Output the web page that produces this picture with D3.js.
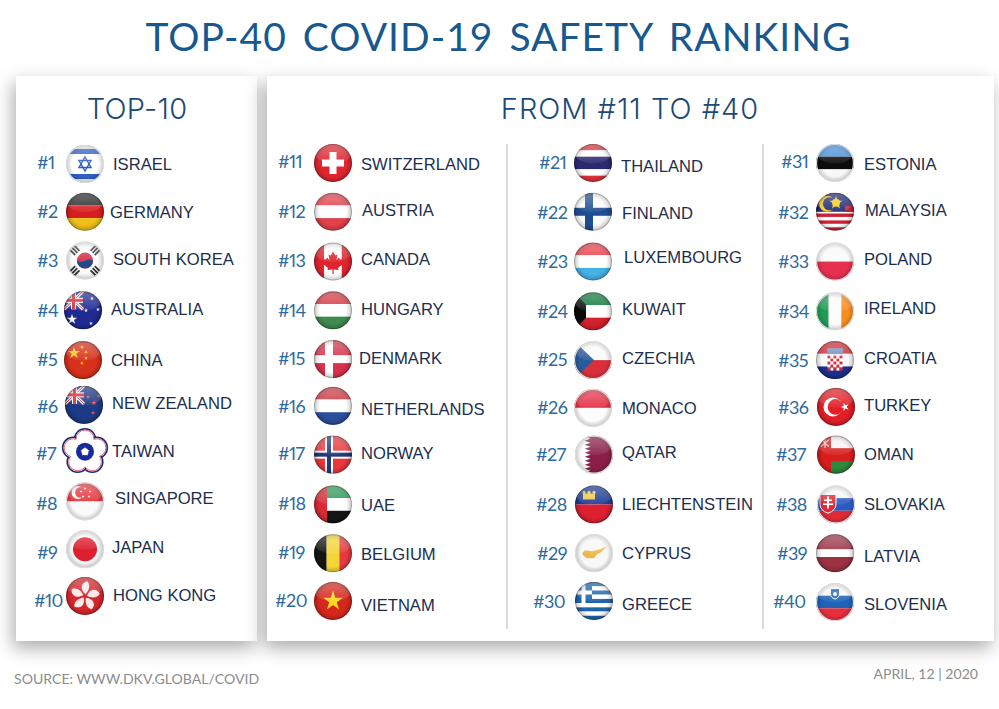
<!DOCTYPE html>
<html>
<head>
<meta charset="utf-8">
<script src="https://cdn.jsdelivr.net/npm/d3@7"></script>
<style>
  html, body { margin: 0; background: #fff; }
  svg { display: block; }
  .title { font-family: Lato, sans-serif; fill: #17588f; font-size: 39px; letter-spacing: 1px; word-spacing: 5px; }
  .head { font-family: Inter, sans-serif; font-weight: 300; fill: #1c4a78; font-size: 29px; }
  .rank { font-family: Lato, sans-serif; fill: #2f6a9c; font-size: 18px; font-variant-numeric: proportional-nums; letter-spacing: -0.6px; }
  .name { font-family: "Liberation Sans", Arial, sans-serif; fill: #1c2e4e; font-size: 16.6px; }
  .foot { font-family: Lato, sans-serif; fill: #8c8c8c; font-size: 14.1px; }
</style>
</head>
<body>
<div id="chart"></div>
<script>
// table contents
const names1 = ['ISRAEL', 'GERMANY', 'SOUTH KOREA', 'AUSTRALIA', 'CHINA', 'NEW ZEALAND', 'TAIWAN', 'SINGAPORE', 'JAPAN', 'HONG KONG'];
const names2 = ['SWITZERLAND', 'AUSTRIA', 'CANADA', 'HUNGARY', 'DENMARK', 'NETHERLANDS', 'NORWAY', 'UAE', 'BELGIUM', 'VIETNAM'];
const names3 = ['THAILAND', 'FINLAND', 'LUXEMBOURG', 'KUWAIT', 'CZECHIA', 'MONACO', 'QATAR', 'LIECHTENSTEIN', 'CYPRUS', 'GREECE'];
const names4 = ['ESTONIA', 'MALAYSIA', 'POLAND', 'IRELAND', 'CROATIA', 'TURKEY', 'OMAN', 'SLOVAKIA', 'LATVIA', 'SLOVENIA'];
const ranks1 = [1, 2, 3, 4, 5, 6, 7, 8, 9, 10];
const ranks2 = [11, 12, 13, 14, 15, 16, 17, 18, 19, 20];
const ranks3 = [21, 22, 23, 24, 25, 26, 27, 28, 29, 30];
const ranks4 = [31, 32, 33, 34, 35, 36, 37, 38, 39, 40];

const width = 999;
const height = 709;
const R = 19;

// the original is hand placed, so each column carries small offsets from the row scale
const columns = [
  { names: names1, ranks: ranks1, rankX: 37, flagX: 85, nameX: 112,
    rankDy: [0, 0, 0, 1, 2, 0, -2, -1, -1, -1],
    flagDy: [1, 0, 0, 1, 2, -2, -4, -3, -4, -6],
    nameDy: [1, 0, -1, 0, 2, -4, -4, -6, -6, -7],
    rankDx: [0, 0, 0, 0, 0, 0, -1, -1, 0, -3],
    flagDx: [0, 0, 0, -2, -2, -1, 0, 0, 0, 0],
    nameDx: [1, -2, 1, -1, -1, 0, 0, 3, 0, 1] },
  { names: names2, ranks: ranks2, rankX: 278, flagX: 333, nameX: 361,
    rankDy: [-1, 0, 0, 1, 1, 0, -2, -1, -1, -1],
    flagDy: [0, 0, 1, 1, 1, -1, -1, 0, 0, -1],
    nameDy: [1, -2, -1, 0, 0, 2, -2, 1, 1, 3],
    rankDx: [0, 0, 0, 0, 0, 0, 0, 0, 0, -3],
    flagDx: [0, 0, 0, 0, 0, 0, 0, 0, 0, 0],
    nameDx: [0, 1, 0, 0, -2, 0, 0, 0, 0, 0] },
  { names: names3, ranks: ranks3, rankX: 537, flagX: 593, nameX: 622,
    rankDy: [0, 1, 1, 2, 2, 1, -1, 0, 0, 0],
    flagDy: [0, 0, 1, 2, 2, 1, -1, 0, 0, -1],
    nameDy: [3, 1, -3, 0, 0, 1, -3, 0, 0, 2],
    rankDx: [2, 0, 0, 0, 0, 0, -1, -1, 0, -4],
    flagDx: [0, 0, 0, 0, 0, 0, 1, 1, 1, 1],
    nameDx: [-1, 0, 2, 0, 0, 0, 0, 0, 0, 0] },
  { names: names4, ranks: ranks4, rankX: 778, flagX: 835, nameX: 864,
    rankDy: [-1, 1, 1, 2, 3, 1, -1, 0, 0, 0],
    flagDy: [0, 0, 1, 2, 2, 0, -1, 0, 0, 0],
    nameDy: [1, -2, -1, -1, 0, -2, -1, 0, 3, 2],
    rankDx: [3, 0, 0, 0, 0, 0, -2, -2, -1, -5],
    flagDx: [0, 0, 0, 0, 0, 1, 1, 1, 0, 0],
    nameDx: [0, 1, 0, 0, 0, 0, 0, 0, 0, 0] }
];

const row = d3.scalePoint().domain(d3.range(10)).range([163, 602]);

// flag drawing helpers, everything is in a circle of radius R around 0,0
function rect (g, x, y, w, h, fill) {
  return g.append('rect').attr('x', x).attr('y', y).attr('width', w).attr('height', h).attr('fill', fill);
}
function dot (g, x, y, r, fill) {
  return g.append('circle').attr('cx', x).attr('cy', y).attr('r', r).attr('fill', fill);
}
function poly (g, d, fill) {
  return g.append('path').attr('d', d).attr('fill', fill);
}
function star (g, x, y, size, fill, spin) {
  return g.append('path')
    .attr('d', d3.symbol(d3.symbolStar, size * size * 1.1)())
    .attr('transform', `translate(${x},${y}) rotate(${spin || 0})`)
    .attr('fill', fill);
}
function hBands (g, colors, weights) {
  const w = weights || colors.map(() => 1);
  const y = d3.scaleLinear().domain([0, d3.sum(w)]).range([-R, R]);
  let at = 0;
  colors.forEach((c, i) => {
    rect(g, -R, y(at), 2 * R, y(at + w[i]) - y(at), c);
    at += w[i];
  });
}
function vBands (g, colors, weights) {
  const w = weights || colors.map(() => 1);
  const x = d3.scaleLinear().domain([0, d3.sum(w)]).range([-R, R]);
  let at = 0;
  colors.forEach((c, i) => {
    rect(g, x(at), -R, x(at + w[i]) - x(at), 2 * R, c);
    at += w[i];
  });
}
function nordic (g, bg, outer, inner) {
  rect(g, -R, -R, 2 * R, 2 * R, bg);
  rect(g, -R, -4, 2 * R, 8, outer);
  rect(g, -8, -R, 8, 2 * R, outer);
  if (inner) {
    rect(g, -R, -2, 2 * R, 4, inner);
    rect(g, -6, -R, 4, 2 * R, inner);
  }
}
function unionJack (g) {
  const j = g.append('g');
  rect(j, -R, -R, 19, 18, '#243a96');
  j.append('path').attr('d', 'M-19,-19L0,-1M0,-19L-19,-1').attr('stroke', '#fff').attr('stroke-width', 3);
  j.append('path').attr('d', 'M-19,-19L0,-1M0,-19L-19,-1').attr('stroke', '#d8283a').attr('stroke-width', 1);
  rect(j, -R, -12.5, 19, 5, '#fff');
  rect(j, -12, -R, 5, 18, '#fff');
  rect(j, -R, -11.5, 19, 3, '#d8283a');
  rect(j, -11, -R, 3, 18, '#d8283a');
}
function crescent (g, x, y, r, fill, bg, dx) {
  dot(g, x, y, r, fill);
  dot(g, x + dx, y, r * 0.82, bg);
}
function shield (g, x, y, s, top, bottom) {
  poly(g, `M${x - s},${y - s}H${x + s}V${y + 0.2 * s}Q${x + s},${y + s} ${x},${y + 1.35 * s}Q${x - s},${y + s} ${x - s},${y + 0.2 * s}Z`, top)
    .attr('stroke', bottom).attr('stroke-width', 1);
}

const flagArt = {
  ISRAEL (g) {
    hBands(g, ['#2e5fc4', '#fff', '#2e5fc4'], [9, 20, 9]);
    rect(g, -R, -R, 2 * R, 4, '#f2f2f2');
    rect(g, -R, 15, 2 * R, 4, '#f2f2f2');
    const s = g.append('g').attr('fill', 'none').attr('stroke', '#2e5fc4').attr('stroke-width', 1.4);
    s.append('path').attr('d', 'M0,-7L6,3.5H-6Z');
    s.append('path').attr('d', 'M0,7L6,-3.5H-6Z');
  },
  GERMANY (g) { hBands(g, ['#2a2a2a', '#d81e1e', '#efbf1a']); },
  'SOUTH KOREA' (g) {
    rect(g, -R, -R, 2 * R, 2 * R, '#fbfbfb');
    dot(g, 0, 0, 8, '#d9304a');
    g.append('path').attr('d', 'M-8,0A8,8 0 0 0 8,0Q4,-3 0,0T-8,0Z').attr('fill', '#1f4a8c');
    [[-10.5, -10.5, 45], [10.5, -10.5, -45], [-10.5, 10.5, -45], [10.5, 10.5, 45]].forEach(t => {
      const b = g.append('g').attr('transform', `translate(${t[0]},${t[1]}) rotate(${t[2]})`);
      [-3, 0, 3].forEach(y => rect(b, -4, y - 0.9, 8, 1.8, '#333'));
    });
  },
  AUSTRALIA (g) {
    rect(g, -R, -R, 2 * R, 2 * R, '#1f2a92');
    unionJack(g);
    star(g, -11, 9, 5.5, '#fff');
    star(g, 9, -12, 2.2, '#fff');
    star(g, 15, -1, 2.2, '#fff');
    star(g, 8, 13, 2.2, '#fff');
    star(g, 3, 0, 2.2, '#fff');
  },
  CHINA (g) {
    rect(g, -R, -R, 2 * R, 2 * R, '#d7301b');
    star(g, -9, -7, 6.5, '#f7c51e');
    star(g, -1, -13, 2.2, '#f7c51e', 20);
    star(g, 3, -8, 2.2, '#f7c51e', 40);
    star(g, 3, -2, 2.2, '#f7c51e');
    star(g, -1, 3, 2.2, '#f7c51e', 20);
  },
  'NEW ZEALAND' (g) {
    rect(g, -R, -R, 2 * R, 2 * R, '#1d3a86');
    unionJack(g);
    star(g, 10, -2, 3, '#e0555f');
    star(g, 4, -8, 2.4, '#e0555f');
    star(g, 15, -9, 2.4, '#e0555f');
    star(g, 9, 8, 2.4, '#e0555f');
  },
  SINGAPORE (g) {
    hBands(g, ['#e5383f', '#fafafa']);
    crescent(g, -7, -9, 6.5, '#fff', '#e5383f', 2.5);
    [[-1, -14], [4, -11], [3, -6], [-3, -6], [-5, -11]].forEach(p => star(g, p[0] + 1, p[1] + 1, 1.6, '#fff'));
  },
  JAPAN (g) {
    rect(g, -R, -R, 2 * R, 2 * R, '#f7f7f7');
    dot(g, 0, 0, 12, '#dc1f2e');
  },
  'HONG KONG' (g) {
    rect(g, -R, -R, 2 * R, 2 * R, '#d8262c');
    d3.range(5).forEach(i => {
      g.append('path')
        .attr('d', 'M0,-2C-7,-6 -6,-13 0,-15C4,-11 3,-6 0,-2Z')
        .attr('transform', `rotate(${i * 72 + 10})`)
        .attr('fill', '#fbe9e9');
    });
  },
  SWITZERLAND (g) {
    rect(g, -R, -R, 2 * R, 2 * R, '#e1252f');
    rect(g, -11, -3.5, 22, 7, '#fff');
    rect(g, -3.5, -11, 7, 22, '#fff');
  },
  AUSTRIA (g) { hBands(g, ['#e1414b', '#fff', '#e1414b']); },
  CANADA (g) {
    vBands(g, ['#e0242c', '#fff', '#e0242c'], [1, 1.7, 1]);
    poly(g, 'M0,-10L2.4,-6L4.5,-7L3.5,-1.5L6,-4L7,-2L10,-2.5L9,1L10.5,2L5,6.5L5.5,8.5L0.6,8V12.5H-0.6V8L-5.5,8.5L-5,6.5L-10.5,2L-9,1L-10,-2.5L-7,-2L-6,-4L-3.5,-1.5L-4.5,-7L-2.4,-6Z', '#e0242c');
  },
  HUNGARY (g) { hBands(g, ['#d33c43', '#fff', '#3f8a50']); },
  DENMARK (g) { nordic(g, '#d9324c', '#fff'); },
  NETHERLANDS (g) { hBands(g, ['#c93a46', '#fff', '#2b4f9c']); },
  NORWAY (g) { nordic(g, '#e8383e', '#fff', '#1e3a78'); },
  UAE (g) {
    hBands(g, ['#2f9a57', '#fff', '#141414']);
    rect(g, -R, -R, 13, 2 * R, '#d92a36');
  },
  BELGIUM (g) { vBands(g, ['#151515', '#f5d437', '#e63a41']); },
  VIETNAM (g) {
    rect(g, -R, -R, 2 * R, 2 * R, '#d6271c');
    star(g, 0, 0, 10.5, '#fbd71e');
  },
  THAILAND (g) { hBands(g, ['#e0343c', '#fff', '#2c2a6e', '#fff', '#e0343c'], [1, 1, 2, 1, 1]); },
  FINLAND (g) { nordic(g, '#fafafa', '#1f4d92'); },
  LUXEMBOURG (g) { hBands(g, ['#e9404c', '#fff', '#45b2e6']); },
  KUWAIT (g) {
    hBands(g, ['#0f7a3c', '#fff', '#d2202c']);
    poly(g, 'M-19,-19L-7,-6.5V6.5L-19,19Z', '#0a0a0a');
  },
  CZECHIA (g) {
    hBands(g, ['#fafafa', '#d9303c']);
    poly(g, 'M-19,-19L1,0L-19,19Z', '#2a5a9c');
  },
  MONACO (g) { hBands(g, ['#e42f45', '#fcfcfc']); },
  QATAR (g) {
    rect(g, -R, -R, 2 * R, 2 * R, '#8a1e48');
    rect(g, -R, -R, 10, 2 * R, '#fcfcfc');
    // white teeth biting into the maroon
    d3.range(9).forEach(i => {
      const y = -18 + i * 4;
      poly(g, `M-9.2,${y}L-3.5,${y + 2}L-9.2,${y + 4}Z`, '#fcfcfc');
    });
  },
  LIECHTENSTEIN (g) {
    hBands(g, ['#1c3c94', '#dd2030']);
    rect(g, -11, -11, 12, 6, '#eec94a');
    [-10, -5, 0].forEach(x => dot(g, x, -12, 1.6, '#eec94a'));
  },
  CYPRUS (g) {
    rect(g, -R, -R, 2 * R, 2 * R, '#f8f8f8');
    poly(g, 'M-12,0L-9,-3L-2,-2L6,-4L13,-7L7,-1L3,1L0,5L-7,5L-10,3Z', '#ecb84e');
  },
  GREECE (g) {
    hBands(g, ['#1f63ab', '#fff', '#1f63ab', '#fff', '#1f63ab', '#fff', '#1f63ab', '#fff', '#1f63ab']);
    rect(g, -R, -R, 17, 21, '#1f63ab');
    rect(g, -12.5, -R, 4, 21, '#fff');
    rect(g, -R, -10.5, 17, 4, '#fff');
  },
  ESTONIA (g) { hBands(g, ['#4a90da', '#0c0c0c', '#f8f8f8']); },
  MALAYSIA (g) {
    hBands(g, ['#cc2233', '#fff', '#cc2233', '#fff', '#cc2233', '#fff', '#cc2233', '#fff', '#cc2233', '#fff', '#cc2233']);
    rect(g, -R, -R, 2 * R, 19, '#1e2a78');
    rect(g, 10, -6, 9, 6, '#cc2233');
    crescent(g, -8, -8, 8, '#f2cc1e', '#1e2a78', 2.5);
    star(g, 1, -9, 7, '#f2cc1e');
    dot(g, 1, -9, 4, '#f2cc1e');
  },
  POLAND (g) { hBands(g, ['#fafafa', '#e6304f']); },
  IRELAND (g) { vBands(g, ['#1f9a54', '#fcfcfc', '#f78c1f']); },
  CROATIA (g) {
    hBands(g, ['#d92a36', '#fafafa', '#1d2f8c']);
    d3.range(5).forEach(r => d3.range(5).forEach(c => {
      rect(g, -7.5 + c * 3, -4.5 + r * 3, 3, 3, (r + c) % 2 ? '#fff' : '#d92a36');
    }));
    rect(g, -8, -12, 16, 6, '#7a8db8');
  },
  TURKEY (g) {
    rect(g, -R, -R, 2 * R, 2 * R, '#e41e26');
    crescent(g, -3, 0, 9.5, '#fff', '#e41e26', 2.5);
    star(g, 9, 0, 4.5, '#fff', -18);
  },
  OMAN (g) {
    rect(g, -R, -R, 2 * R, 2 * R, '#d81e1e');
    rect(g, -5, -R, 24, 12.5, '#f5f5f5');
    rect(g, -5, 6.5, 24, 12.5, '#2c8a3c');
    g.append('path').attr('d', 'M-15,-15L-7,-8M-7,-15L-15,-8M-11,-16V-7').attr('stroke', '#fbdada').attr('stroke-width', 1.2);
  },
  SLOVAKIA (g) {
    hBands(g, ['#f8f8f8', '#2a5cc0', '#e02a38']);
    shield(g, -8, -2, 8, '#e02a38', '#fff');
    rect(g, -9, -8, 2, 12, '#fff');
    rect(g, -12, -5, 8, 1.6, '#fff');
    rect(g, -13, -1, 10, 1.6, '#fff');
  },
  LATVIA (g) { hBands(g, ['#9c3244', '#fff', '#9c3244'], [2, 1, 2]); },
  SLOVENIA (g) {
    hBands(g, ['#f9f9f9', '#1f62b8', '#e62f3a']);
    shield(g, 0, -9, 4.5, '#1f62b8', '#fff');
    dot(g, 0, -8, 2, '#fff');
  }
};

// rim colour picks up the look of the glossy buttons
const lightRim = ['ISRAEL', 'SOUTH KOREA', 'JAPAN', 'CYPRUS', 'ESTONIA', 'POLAND', 'CZECHIA', 'MONACO', 'QATAR', 'SINGAPORE', 'SLOVAKIA', 'SLOVENIA', 'IRELAND'];

const svg = d3.select('#chart').append('svg')
  .attr('width', width)
  .attr('height', height);

const defs = svg.append('defs');

defs.append('clipPath').attr('id', 'disc')
  .append('circle').attr('r', R);

const shadow = defs.append('filter').attr('id', 'panelShadow')
  .attr('x', '-15%').attr('y', '-10%').attr('width', '130%').attr('height', '120%');
shadow.append('feDropShadow')
  .attr('dx', -3).attr('dy', 7).attr('stdDeviation', 9)
  .attr('flood-color', '#000').attr('flood-opacity', 0.33);

const gloss = defs.append('linearGradient').attr('id', 'gloss')
  .attr('x1', 0).attr('x2', 0).attr('y1', 0).attr('y2', 1);
gloss.append('stop').attr('offset', '0%').attr('stop-color', '#fff').attr('stop-opacity', 0.34);
gloss.append('stop').attr('offset', '100%').attr('stop-color', '#fff').attr('stop-opacity', 0.06);

const shade = defs.append('radialGradient').attr('id', 'shade');
shade.append('stop').attr('offset', '70%').attr('stop-color', '#000').attr('stop-opacity', 0);
shade.append('stop').attr('offset', '100%').attr('stop-color', '#000').attr('stop-opacity', 0.22);

// title
svg.append('text').attr('class', 'title')
  .attr('x', 498.5).attr('y', 51).attr('text-anchor', 'middle')
  .text('TOP-40 COVID-19 SAFETY RANKING');

// panels
const panels = [[16, 241], [267, 727]];
svg.selectAll('.panel')
  .data(panels)
  .enter().append('rect')
  .attr('class', 'panel')
  .attr('x', d => d[0])
  .attr('y', 76)
  .attr('width', d => d[1])
  .attr('height', 565)
  .attr('fill', '#fff')
  .attr('filter', 'url(#panelShadow)');

svg.append('text').attr('class', 'head')
  .attr('x', 137).attr('y', 119).attr('text-anchor', 'middle')
  .style('letter-spacing', '0.3px')
  .text('TOP-10');
svg.append('text').attr('class', 'head')
  .attr('x', 630).attr('y', 119).attr('text-anchor', 'middle')
  .style('letter-spacing', '1px')
  .text('FROM #11 TO #40');

// column dividers
svg.selectAll('.divider')
  .data([507, 763])
  .enter().append('line')
  .attr('class', 'divider')
  .attr('x1', d => d).attr('x2', d => d)
  .attr('y1', 144).attr('y2', 629)
  .attr('stroke', '#c4c4c4')
  .attr('stroke-width', 1.2);

function drawFlag (g, name) {
  if (name === 'TAIWAN') {
    const petals = d3.range(5).map(i => {
      const a = (i * 72 - 90) * Math.PI / 180;
      return [Math.cos(a) * 12.5, Math.sin(a) * 12.5];
    });
    petals.forEach(p => dot(g, p[0], p[1], 10.5, '#fff').attr('stroke', '#1f2a78').attr('stroke-width', 1.5));
    petals.forEach(p => dot(g, p[0], p[1], 9, '#fff').attr('stroke', '#d8283a').attr('stroke-width', 0.7));
    dot(g, 0, 0, 15, '#fff');
    dot(g, 0, 0, 9, '#1a2a9c');
    star(g, 0, 0, 5, '#fff');
    dot(g, 0, 0, 3.5, '#fff');
    return;
  }
  const art = g.append('g').attr('clip-path', 'url(#disc)');
  flagArt[name](art);
  art.append('circle').attr('r', R).attr('fill', 'url(#shade)');
  art.append('ellipse').attr('cy', -9.5).attr('rx', 18).attr('ry', 10).attr('fill', 'url(#gloss)');
  g.append('circle').attr('r', R - 0.5)
    .attr('fill', 'none')
    .attr('stroke', lightRim.includes(name) ? '#dcdcdc' : '#000')
    .attr('stroke-opacity', lightRim.includes(name) ? 1 : 0.22)
    .attr('stroke-width', 1.2);
}

// one group of rank, flag and name per column
columns.forEach(col => {
  const items = col.names.map((name, i) => ({ name, rank: col.ranks[i], i }));
  const rows = svg.append('g').selectAll('g')
    .data(items)
    .enter().append('g');

  rows.append('text').attr('class', 'rank')
    .attr('x', d => col.rankX + col.rankDx[d.i])
    .attr('y', d => row(d.i) + col.rankDy[d.i])
    .attr('dy', '0.35em')
    .text(d => '#' + d.rank);

  rows.append('g')
    .attr('transform', d => `translate(${col.flagX + col.flagDx[d.i]},${row(d.i) + col.flagDy[d.i]})`)
    .each(function (d) { drawFlag(d3.select(this), d.name); });

  rows.append('text').attr('class', 'name')
    .attr('x', d => col.nameX + col.nameDx[d.i])
    .attr('y', d => row(d.i) + col.nameDy[d.i])
    .attr('dy', '0.35em')
    .text(d => d.name);
});

// footer
svg.append('text').attr('class', 'foot')
  .attr('x', 14).attr('y', 684)
  .text('SOURCE: WWW.DKV.GLOBAL/COVID');
svg.append('text').attr('class', 'foot')
  .attr('x', 978).attr('y', 679).attr('text-anchor', 'end')
  .text('APRIL, 12 | 2020');
</script>
</body>
</html>
